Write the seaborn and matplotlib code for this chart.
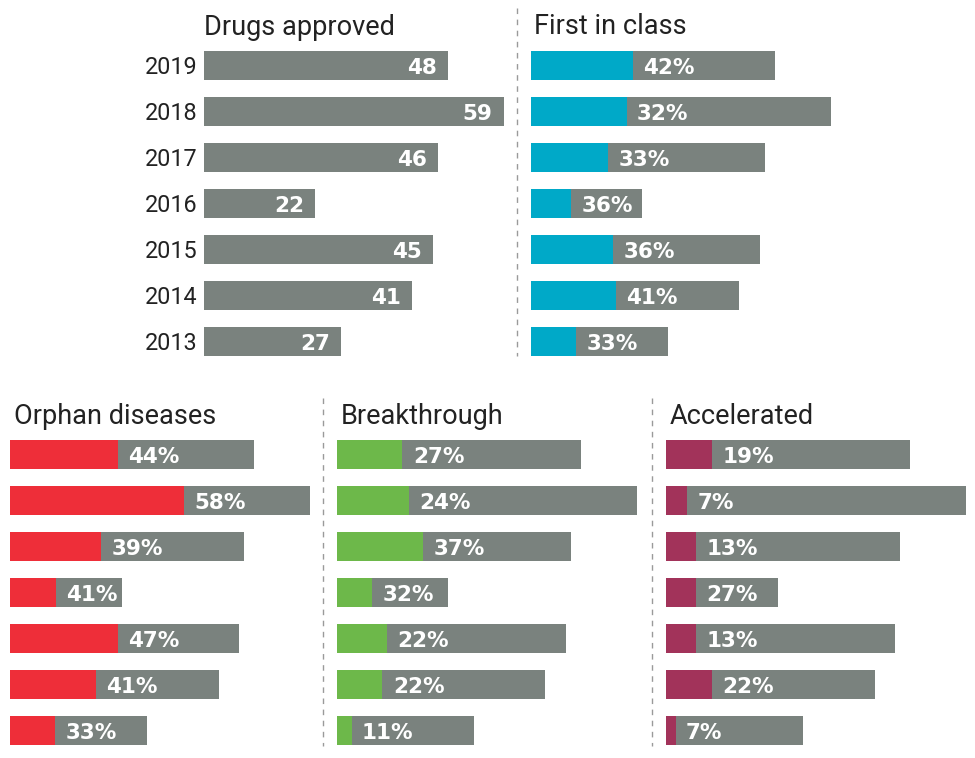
import matplotlib
matplotlib.use('Agg')
import matplotlib.pyplot as plt
from matplotlib import font_manager
import seaborn as sns
import pandas as pd

# Datos
years = ['2019', '2018', '2017', '2016', '2015', '2014', '2013']
approved = [48, 59, 46, 22, 45, 41, 27]
first_in_class = [42, 32, 33, 36, 36, 41, 33]
orphan = [44, 58, 39, 41, 47, 41, 33]
breakthrough = [27, 24, 37, 32, 22, 22, 11]
accelerated = [19, 7, 13, 27, 13, 22, 7]

grey = '#7a827e'
W, H = 975, 758

sns.set_theme(style='white')
names = {f.name for f in font_manager.fontManager.ttflist}
if 'Liberation Sans Narrow' in names:
    title_font, title_size, year_size = 'Liberation Sans Narrow', 22.5, 19.5
else:
    title_font, title_size, year_size = 'Roboto', 19.5, 16.8
plt.rcParams['font.family'] = [title_font, 'DejaVu Sans']

fig = plt.figure(figsize=(W / 100, H / 100), dpi=100)


def px_axes(left, top, width, height):
    return fig.add_axes([left / W, 1 - (top + height) / H, width / W, height / H])


def panel(left, top, pcts, color, title, show_years=False):
    ax = px_axes(left, top, 59 * 5.09, 322)
    df = pd.DataFrame({'year': years, 'total': approved, 'pct': pcts})
    df['part'] = df['total'] * df['pct'] / 100
    sns.barplot(data=df, x='total', y='year', order=years, orient='h',
                color=grey, width=0.63, linewidth=0, saturation=1, ax=ax)
    sns.barplot(data=df, x='part', y='year', order=years, orient='h',
                color=color, width=0.63, linewidth=0, saturation=1, ax=ax)
    for i, row in df.iterrows():
        ax.annotate(f"{row['pct']}%", (row['part'], i), xytext=(7.5, -1.8),
                    textcoords='offset points', ha='left', va='center',
                    color='white', fontsize=15.5, fontweight='bold',
                    family='DejaVu Sans')
    style(ax, show_years)
    fig.text((left + 4) / W, 1 - (top - 8) / H, title, fontsize=title_size,
             color='#222222', va='baseline', ha='left', family=title_font)
    return ax


def style(ax, show_years):
    ax.set_xlim(0, 59)
    ax.set_ylim(6.5, -0.5)
    ax.set_xlabel('')
    ax.set_ylabel('')
    ax.set_xticks([])
    sns.despine(ax=ax, left=True, bottom=True)
    if show_years:
        ax.tick_params(axis='y', length=0, pad=4, labelsize=year_size,
                       labelcolor='#222222')
        for lab in ax.get_yticklabels():
            lab.set_verticalalignment('center_baseline')
    else:
        ax.set_yticks([])


# Drugs approved
ax = px_axes(203.5, 42.5, 59 * 5.09, 322)
sns.barplot(x=approved, y=years, order=years, orient='h', color=grey,
            width=0.63, linewidth=0, saturation=1, ax=ax)
for i, v in enumerate(approved):
    ax.annotate(str(v), (v, i), xytext=(-8, -1.8), textcoords='offset points',
                ha='right', va='center', color='white', fontsize=15.5,
                fontweight='bold', family='DejaVu Sans')
style(ax, True)
fig.text(204 / W, 1 - 35 / H, 'Drugs approved', fontsize=title_size,
         color='#222222', va='baseline', ha='left', family=title_font)

# Paneles con porcentaje
panel(530.5, 42.5, first_in_class, '#00a9c8', 'First in class')
panel(10, 431.5, orphan, '#ee2e39', 'Orphan diseases')
panel(336.5, 431.5, breakthrough, '#6db84a', 'Breakthrough')
panel(666, 431.5, accelerated, '#a2335a', 'Accelerated')

# Separadores
for x, y0, y1 in [(517, 8, 356), (323, 398, 746), (651.5, 398, 746)]:
    fig.add_artist(plt.Line2D([x / W, x / W], [1 - y0 / H, 1 - y1 / H],
                              transform=fig.transFigure, color='#9a9a9a',
                              lw=1, linestyle=(0, (4, 4))))

fig.savefig('out.png', dpi=100)
